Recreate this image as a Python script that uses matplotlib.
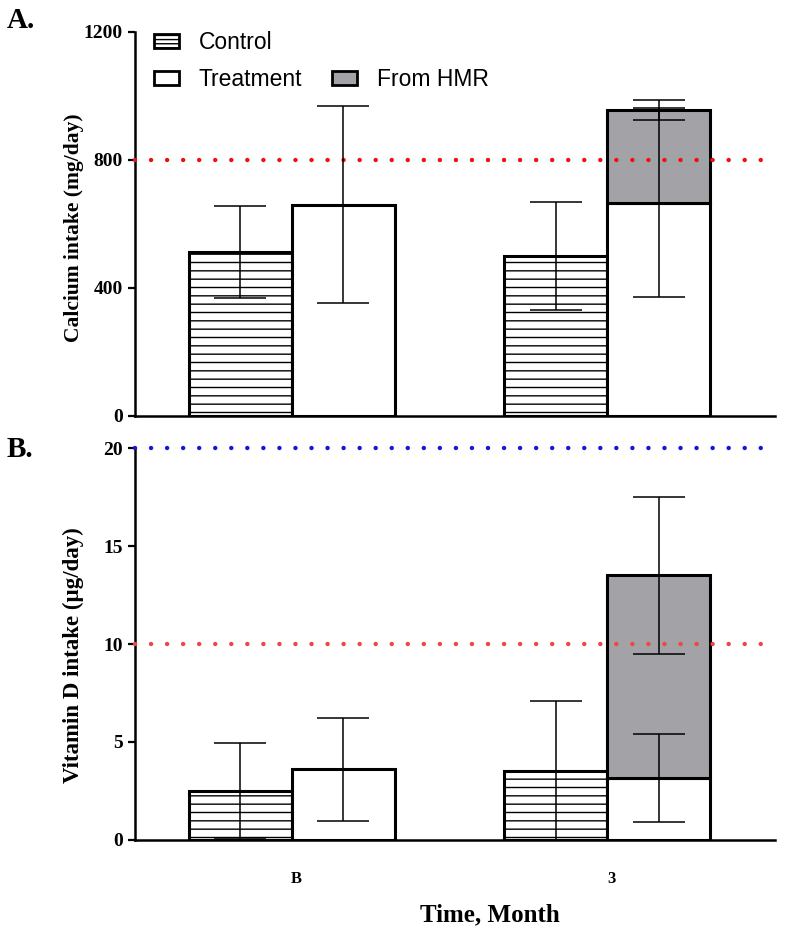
import matplotlib
matplotlib.use("Agg")
import matplotlib.pyplot as plt
from matplotlib.patches import Patch
import numpy as np

# data
categories = ['B', '3']
ca_control = [512, 500]
ca_control_sd = [144, 168]
ca_treat = [660, 666]
ca_treat_sd = [308, 295]
ca_hmr = [0, 290]
ca_hmr_sd = [0, 31]
ca_ref = 800

vd_control = [2.5, 3.5]
vd_control_sd = [2.45, 3.6]
vd_treat = [3.6, 3.15]
vd_treat_sd = [2.65, 2.25]
vd_hmr = [0, 10.35]
vd_hmr_sd = [0, 4.0]
vd_ref_low = 10
vd_ref_high = 20

GREY = '#a3a2a7'
SERIF = ['Liberation Serif', 'DejaVu Serif']
SANS = ['Liberation Sans', 'DejaVu Sans']

plt.rcParams['hatch.linewidth'] = 1.0
plt.rcParams['font.family'] = SERIF


def draw_panel(ax, control, control_sd, treat, treat_sd, hmr, hmr_sd):
    x = np.arange(len(categories))
    w = 0.327
    bar_kw = dict(width=w, edgecolor='black', linewidth=2.2, zorder=2)
    err_kw = dict(fmt='none', ecolor='black', elinewidth=1.1, capsize=19, capthick=1.1, zorder=4)

    ax.bar(x - w / 2, control, color='white', hatch='--', **bar_kw)
    ax.bar(x + w / 2, treat, color='white', **bar_kw)
    has_hmr = np.array(hmr) > 0
    ax.bar((x + w / 2)[has_hmr], np.array(hmr)[has_hmr], bottom=np.array(treat)[has_hmr],
           color=GREY, **bar_kw)

    ax.errorbar(x - w / 2, control, yerr=control_sd, **err_kw)
    ax.errorbar(x + w / 2, treat, yerr=treat_sd, **err_kw)
    tops = np.array(treat) + np.array(hmr)
    ax.errorbar((x + w / 2)[has_hmr], tops[has_hmr], yerr=np.array(hmr_sd)[has_hmr], **err_kw)

    ax.set_xlim(-0.498, 1.533)
    ax.set_xticks(x + 0.013)
    for s in ['top', 'right']:
        ax.spines[s].set_visible(False)
    for s in ['left', 'bottom']:
        ax.spines[s].set_linewidth(1.8)
    ax.tick_params(axis='y', length=5, width=1.6, labelsize=14, pad=4)
    ax.tick_params(axis='x', length=0, labelsize=12, pad=22)
    for lab in ax.get_yticklabels() + ax.get_xticklabels():
        lab.set_fontweight('bold')


def dotted(ax, y, color, xmax=1.0):
    ax.axhline(y, xmin=0.0, xmax=xmax, color=color, linewidth=3.2,
               linestyle=(0, (0.01, 3.6)), dash_capstyle='round', zorder=3, clip_on=False)


fig = plt.figure(figsize=(7.88, 9.35), dpi=100)
ax1 = fig.add_axes([135 / 788, 1 - 416 / 935, 640 / 788, 384 / 935])
ax2 = fig.add_axes([135 / 788, 1 - 840 / 935, 640 / 788, 392 / 935])

# panel A: calcium
draw_panel(ax1, ca_control, ca_control_sd, ca_treat, ca_treat_sd, ca_hmr, ca_hmr_sd)
ax1.set_ylim(0, 1200)
ax1.set_yticks([0, 400, 800, 1200])
ax1.set_xticklabels([])
dotted(ax1, ca_ref, '#f01010', xmax=0.99)
ax1.set_ylabel('Calcium intake (mg/day)', fontsize=15.5, fontweight='bold')
ax1.yaxis.set_label_coords(-0.08, 0.49)

handles = [Patch(facecolor='white', edgecolor='black', hatch='----', linewidth=2.0),
           Patch(facecolor='white', edgecolor='black', linewidth=2.0),
           Patch(facecolor='none', edgecolor='none'),
           Patch(facecolor=GREY, edgecolor='black', linewidth=2.0)]
labels = ['Control', 'Treatment', '', 'From HMR']
fig.legend(handles, labels, ncol=2, loc='upper left', bbox_to_anchor=(154 / 788, 1 - 31 / 935),
           frameon=False, borderpad=0, borderaxespad=0, handlelength=1.1, handleheight=0.6,
           handletextpad=0.85, labelspacing=0.62, columnspacing=1.3,
           prop={'family': SANS, 'size': 16.5})

# panel B: vitamin D
draw_panel(ax2, vd_control, vd_control_sd, vd_treat, vd_treat_sd, vd_hmr, vd_hmr_sd)
ax2.set_ylim(0, 20)
ax2.set_yticks([0, 5, 10, 15, 20])
ax2.set_xticklabels(categories)
dotted(ax2, vd_ref_low, '#f04545')
dotted(ax2, vd_ref_high, '#1515e0')
ax2.set_ylabel('Vitamin D intake (\u00b5g/day)', fontsize=16.5, fontweight='bold')
ax2.yaxis.set_label_coords(-0.08, 0.472)

fig.text(7 / 788, 1 - 21 / 935, 'A.', fontsize=21, fontweight='bold', va='center', ha='left')
fig.text(7 / 788, 1 - 450 / 935, 'B.', fontsize=21, fontweight='bold', va='center', ha='left')
fig.text(490 / 788, 1 - 915 / 935, 'Time, Month', fontsize=18, fontweight='bold', ha='center', va='center')

fig.savefig('out.png', dpi=100)
